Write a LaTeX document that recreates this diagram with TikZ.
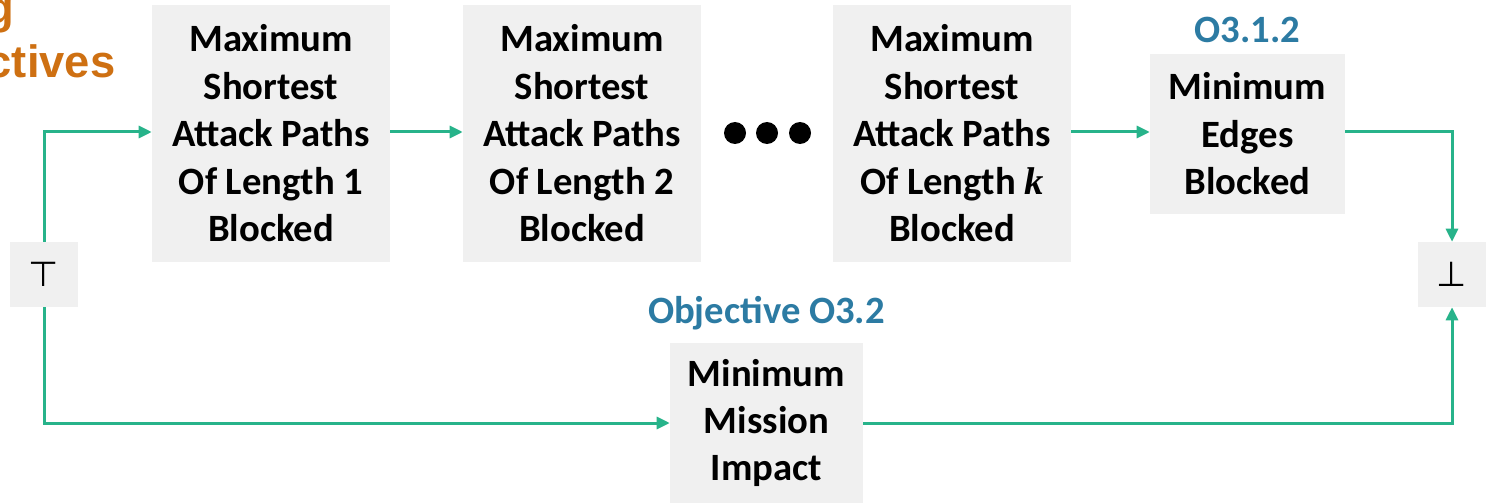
\documentclass[tikz,border=0pt]{standalone}
\usepackage{fontspec}
\setmainfont{Carlito}
\newfontfamily\headfont{Liberation Sans}
\newfontfamily\logicfont{DejaVu Sans}
\newfontfamily\varfont{Liberation Serif}
\usetikzlibrary{arrows.meta}

\definecolor{boxgray}{HTML}{F0F0F0}
\definecolor{flowgreen}{HTML}{27B38A}
\definecolor{labelblue}{HTML}{2C7BA3}
\definecolor{headorange}{HTML}{CE7012}

\newcommand{\pathlen}{{\varfont\bfseries\itshape k}}

\tikzset{
  stagebox/.style={fill=boxgray, draw=none, align=center, inner sep=0pt,
    font=\bfseries\fontsize{29}{35.6}\selectfont},
  bigbox/.style={stagebox, minimum width=178.5pt, minimum height=192.75pt},
  smallbox/.style={stagebox, minimum width=146.25pt, minimum height=120pt},
  endbox/.style={fill=boxgray, draw=none, inner sep=0pt,
    minimum width=51pt, minimum height=48.75pt, font=\logicfont\fontsize{26}{30}\selectfont},
  tag/.style={text=labelblue, font=\bfseries\fontsize{29}{34}\selectfont, anchor=base},
  head/.style={text=headorange, font=\headfont\bfseries\fontsize{34}{40}\selectfont, anchor=base east},
  flow/.style={draw=flowgreen, line width=2.25pt,
    -{Triangle[length=9.75pt, width=9pt]}}
}

\begin{document}
\begin{tikzpicture}[x=0.75pt, y=-0.75pt]
  \useasboundingbox (0,0) rectangle (1493,503);
  \fill[white] (0,0) rectangle (1493,503);

  % section heading, cut by the page edge
  \node[head] (h1) at (19,24) {g};
  \node[head] (h2) at (120,78) {ctives};

  % start and end terminals
  \node[endbox] (top) at (44,274.5) {⊤};
  \node[endbox] (bot) at (1452,274.5) {⊥};

  % lexicographic chain of objectives
  \node[bigbox] (b1) at (271,133.5) {Maximum\\Shortest\\Attack Paths\\Of Length 1\\Blocked};
  \node[bigbox] (b2) at (582,133.5) {Maximum\\Shortest\\Attack Paths\\Of Length 2\\Blocked};
  \node[bigbox] (b3) at (952,133.5) {Maximum\\Shortest\\Attack Paths\\Of Length \pathlen\\Blocked};
  \node[smallbox] (b4) at (1247.5,134) {Minimum\\Edges\\Blocked};
  \node[tag] (t4) at (1247.5,43) {O3.1.2};

  % alternative objective
  \node[smallbox, minimum width=144.75pt] (b5) at (766.5,423) {Minimum\\Mission\\Impact};
  \node[tag] (t5) at (766.5,323) {Objective O3.2};

  % ellipsis between stage 2 and stage k
  \foreach \cx in {735,767,800} \fill (\cx,133) circle (8.25pt);

  % connectors
  \coordinate (y1) at (0,132);
  \draw[flow] (top.north) |- (b1.west |- y1);
  \draw[flow] (b1.east |- y1) -- (b2.west |- y1);
  \draw[flow] (b3.east |- y1) -- (b4.west |- y1);
  \draw[flow] (b4.east |- y1) -| (bot.north);
  \draw[flow] (top.south) |- (b5.west);
  \draw[flow] (b5.east) -| (bot.south);
\end{tikzpicture}
\end{document}
